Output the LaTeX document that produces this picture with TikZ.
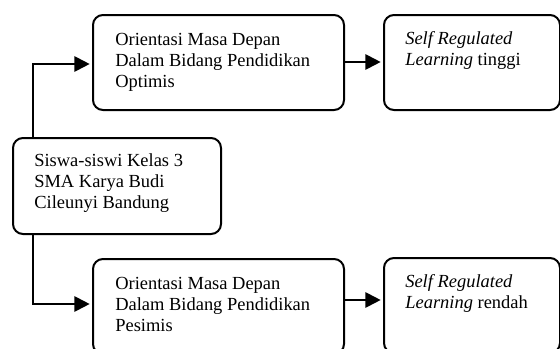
\documentclass[tikz,border=0pt]{standalone}
\usepackage{fontspec}
\setmainfont{Liberation Serif}
\usetikzlibrary{arrows.meta}
\begin{document}
\begin{tikzpicture}[x=0.65pt,y=-0.65pt,
  box/.style={draw, line width=1.3pt, rounded corners=6.5pt, inner sep=0pt, anchor=north west},
  midbox/.style={box, minimum width=163.15pt, minimum height=61.75pt},
  rbox/.style={box, minimum width=114.4pt, minimum height=61.75pt},
  txt/.style={inner sep=0pt, anchor=north west, align=left, font=\fontsize{12}{13.6}\selectfont},
  arr/.style={line width=1.3pt, shorten >=1.5pt, -{Triangle[length=10pt,width=10pt]}}]
\useasboundingbox (0,0) rectangle (560,349);
\clip (0,0) rectangle (560,349);
% boxes
\node[box, minimum width=135.2pt, minimum height=62.4pt] (L) at (12,137) {};
\node[midbox] (m1) at (92,14) {};
\node[rbox] (r1) at (383,14) {};
\node[midbox] (m2) at (92,258) {};
\node[rbox] (r2) at (383,257) {};
% texts
\node[txt] (tL) at (34,152) {\strut Siswa-siswi Kelas 3\\SMA Karya Budi\\Cileunyi Bandung};
\node[txt] (tm1) at (115,31) {\strut Orientasi Masa Depan\\Dalam Bidang Pendidikan\\Optimis};
\node[txt] (tr1) at (405,30) {\strut\textit{Self Regulated}\\\textit{Learning} tinggi};
\node[txt] (tm2) at (115,275) {\strut Orientasi Masa Depan\\Dalam Bidang Pendidikan\\Pesimis};
\node[txt] (tr2) at (405,273) {\strut\textit{Self Regulated}\\\textit{Learning} rendah};
% connectors
\coordinate (jt) at (33,64);
\coordinate (jb) at (33,304);
\coordinate (ya) at (363,62);
\coordinate (yb) at (363,300);
\draw[arr] (L.north -| jt) |- (m1.west |- jt);
\draw[arr] (L.south -| jb) |- (m2.west |- jb);
\draw[arr] (m1.east |- ya) -- (r1.west |- ya);
\draw[arr] (m2.east |- yb) -- (r2.west |- yb);
\end{tikzpicture}
\end{document}
